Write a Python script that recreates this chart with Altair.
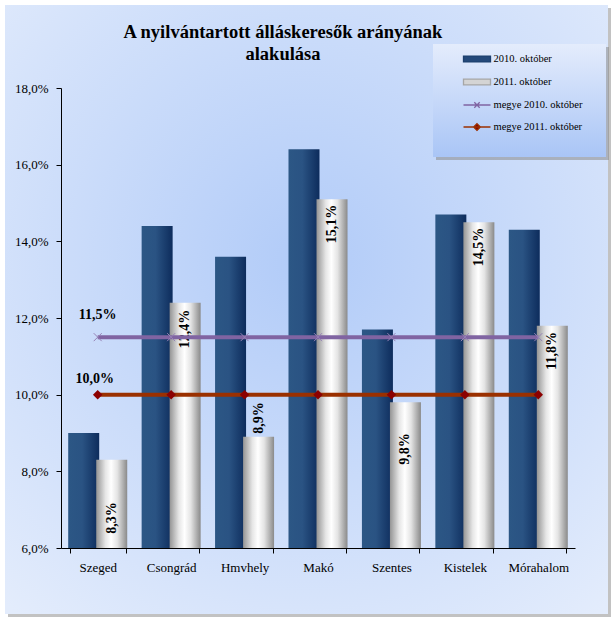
import altair as alt
import pandas as pd

# ---------------- data ----------------
categories = ["Szeged", "Csongrád", "Hmvhely", "Makó", "Szentes", "Kistelek", "Mórahalom"]
oct_2010 = [9.0, 14.4, 13.6, 16.4, 11.7, 14.7, 14.3]
oct_2011 = [8.3, 12.4, 8.9, 15.1, 9.8, 14.5, 11.8]
megye_2010 = [11.5, 11.5, 11.5, 11.5, 11.5, 11.5, 11.5]
megye_2011 = [10.0, 10.0, 10.0, 10.0, 10.0, 10.0, 10.0]
# where each (hand-placed) data label of the 2011 bars sits, in axis units
label_pos_2011 = [6.78, 11.71, 9.39, 14.45, 8.58, 13.85, 11.14]
series_names = ["2010. október", "2011. október", "megye 2010. október", "megye 2011. október"]
y_ticks = [6, 8, 10, 12, 14, 16, 18]
title_lines = ["A nyilvántartott álláskeresők arányának", "alakulása"]

def fmt(v):
    return f"{v:.1f}".replace(".", ",") + "%"

bars_df = pd.DataFrame(
    [{"category": c, "series": series_names[0], "value": v, "lab_y": None, "label": fmt(v)}
     for c, v in zip(categories, oct_2010)]
    + [{"category": c, "series": series_names[1], "value": v, "lab_y": p, "label": fmt(v)}
       for c, v, p in zip(categories, oct_2011, label_pos_2011)]
)
lines_df = pd.DataFrame(
    [{"category": c, "series": series_names[2], "value": v, "label": fmt(v)}
     for c, v in zip(categories, megye_2010)]
    + [{"category": c, "series": series_names[3], "value": v, "label": fmt(v)}
       for c, v in zip(categories, megye_2011)]
)
legend_df = pd.DataFrame({"series": series_names})
deco_df = pd.DataFrame({"k": [0]})

SERIF = "Liberation Serif"
OX, OY = 61, 88  # plot origin inside the 616x626 canvas

# ---------------- encodings ----------------
x_scale = alt.Scale(domain=categories, paddingInner=0.237, paddingOuter=0.1185)
x_axis = alt.Axis(title=None, labelAngle=0, tickBand="extent", labelFont=SERIF,
                  labelFontSize=13, labelColor="black", labelPadding=8, tickSize=5,
                  domainColor="black", tickColor="black", grid=False, zindex=1)
def X():
    return alt.X("category:N", sort=categories, scale=x_scale, axis=x_axis)

y_scale = alt.Scale(domain=[6, 18], zero=False, nice=False)
y_axis = alt.Axis(title=None, values=y_ticks, grid=False, labelFont=SERIF, labelFontSize=13,
                  labelColor="black", labelPadding=8, tickSize=5, domainColor="black",
                  tickColor="black", zindex=1,
                  labelExpr="replace(format(datum.value, '.1f'), '.', ',') + '%'")
def Y(field="value:Q"):
    return alt.Y(field, scale=y_scale, axis=y_axis)

xoff = alt.XOffset("series:N", scale=alt.Scale(domain=series_names[:2], paddingInner=0, paddingOuter=0))

# ---------------- decoration (frame, title, legend box) ----------------
frame_fill = alt.RadialGradient(
    gradient="radial", x1=0.5, y1=0.42, r1=0.0, x2=0.5, y2=0.42, r2=0.75,
    stops=[alt.GradientStop(offset=0, color="#b1cbf8"),
           alt.GradientStop(offset=1, color="#e3ecfc")])
frame_shadow = alt.Chart(deco_df).mark_rect(fill="#9a9a9a", opacity=0.6).encode(
    x=alt.value(5 - OX + 3), x2=alt.value(608 - OX + 3),
    y=alt.value(5 - OY + 3), y2=alt.value(614 - OY + 3))
frame = alt.Chart(deco_df).mark_rect(fill=frame_fill).encode(
    x=alt.value(5 - OX), x2=alt.value(608 - OX),
    y=alt.value(5 - OY), y2=alt.value(614 - OY))

title1 = alt.Chart(deco_df).mark_text(
    text=title_lines[0], font=SERIF, fontSize=18.5, fontWeight="bold", color="black",
    align="center", baseline="middle").encode(x=alt.value(283 - OX), y=alt.value(32 - OY))
title2 = alt.Chart(deco_df).mark_text(
    text=title_lines[1], font=SERIF, fontSize=18.5, fontWeight="bold", color="black",
    align="center", baseline="middle").encode(x=alt.value(283 - OX), y=alt.value(54 - OY))

legend_fill = alt.LinearGradient(
    gradient="linear", x1=0, y1=0, x2=0, y2=1,
    stops=[alt.GradientStop(offset=0, color="#e4ecfc"),
           alt.GradientStop(offset=1, color="#a9c5f6")])
legend_shadow = alt.Chart(deco_df).mark_rect(fill="#8a8a8a", opacity=0.55).encode(
    x=alt.value(433 - OX + 3), x2=alt.value(606 - OX + 3),
    y=alt.value(44 - OY + 3), y2=alt.value(157 - OY + 3))
legend_box = alt.Chart(deco_df).mark_rect(fill=legend_fill).encode(
    x=alt.value(433 - OX), x2=alt.value(606 - OX),
    y=alt.value(44 - OY), y2=alt.value(157 - OY))

# ---------------- bars ----------------
blue_grad = alt.LinearGradient(
    gradient="linear", x1=0, y1=0, x2=1, y2=0,
    stops=[alt.GradientStop(offset=0, color="#2c5785"),
           alt.GradientStop(offset=0.45, color="#2a5383"),
           alt.GradientStop(offset=1, color="#0d2c5c")])
silver_grad = alt.LinearGradient(
    gradient="linear", x1=0, y1=0, x2=1, y2=0,
    stops=[alt.GradientStop(offset=0, color="#949494"),
           alt.GradientStop(offset=0.3, color="#e6e6e6"),
           alt.GradientStop(offset=0.48, color="#ffffff"),
           alt.GradientStop(offset=0.68, color="#e4e4e4"),
           alt.GradientStop(offset=1, color="#8a8a8a")])

base_bars = alt.Chart(bars_df)
bars10 = base_bars.transform_filter(alt.datum.series == series_names[0]).mark_bar(
    fill=blue_grad, width=31).encode(x=X(), xOffset=xoff, y=Y(), y2=alt.datum(6))
bars11 = base_bars.transform_filter(alt.datum.series == series_names[1]).mark_bar(
    fill=silver_grad, width=31).encode(x=X(), xOffset=xoff, y=Y(), y2=alt.datum(6))
bar_labels = base_bars.transform_filter(alt.datum.series == series_names[1]).mark_text(
    angle=270, font=SERIF, fontSize=14, fontWeight="bold", color="black",
    align="center", baseline="middle").encode(
    x=X(), xOffset=xoff, y=Y("lab_y:Q"), text="label:N")

# ---------------- county lines ----------------
base_lines = alt.Chart(lines_df)
l10 = base_lines.transform_filter(alt.datum.series == series_names[2])
l11 = base_lines.transform_filter(alt.datum.series == series_names[3])
line10 = l10.mark_line(color="#8064a2", strokeWidth=4).encode(x=X(), y=Y())
pts10 = l10.mark_point(shape="M-1,-1L1,1M-1,1L1,-1", filled=False, color="#9682b6",
                       size=64, strokeWidth=1, opacity=1).encode(x=X(), y=Y())
line11 = l11.mark_line(color="#9a3000", strokeWidth=4).encode(x=X(), y=Y())
pts11 = l11.mark_point(shape="diamond", filled=True, color="#8b0000", size=90,
                       opacity=1).encode(x=X(), y=Y())
lab10 = l10.transform_filter(alt.datum.category == categories[0]).mark_text(
    font=SERIF, fontSize=14, fontWeight="bold", color="black", dy=-22, dx=0,
    baseline="middle").encode(x=X(), y=Y(), text="label:N")
lab11 = l11.transform_filter(alt.datum.category == categories[0]).mark_text(
    font=SERIF, fontSize=14, fontWeight="bold", color="black", dy=-16, dx=-3,
    baseline="middle").encode(x=X(), y=Y(), text="label:N")

# ---------------- legend (driven by the scales only) ----------------
legend_shapes = [
    "M-1,-0.22H1V0.22H-1Z",
    "M-1,-0.22H1V0.22H-1Z",
    "M-1,0H1M-0.2,-0.2L0.2,0.2M-0.2,0.2L0.2,-0.2",
    "M-1,0H1M0,-0.25L0.25,0L0,0.25L-0.25,0Z",
]
leg = alt.Legend(title=None, orient="none", legendX=476 - 13.5 - OX, legendY=58 - 13.5 - OY,
                 labelFont=SERIF, labelFontSize=10.5, labelColor="black", symbolSize=729,
                 symbolStrokeWidth=1.3, rowPadding=2, labelOffset=2, padding=0)
legend_layer = alt.Chart(legend_df).transform_filter("false").mark_point(
    filled=True, opacity=1).encode(
    fill=alt.Fill("series:N", scale=alt.Scale(domain=series_names,
                  range=["#24497a", "#d4d4d4", "#8064a2", "#8b0000"]), legend=leg),
    stroke=alt.Stroke("series:N", scale=alt.Scale(domain=series_names,
                      range=["#1d406f", "#a6a6a6", "#8064a2", "#9a3000"]), legend=leg),
    shape=alt.Shape("series:N", scale=alt.Scale(domain=series_names, range=legend_shapes),
                    legend=leg),
)

chart = alt.layer(
    frame_shadow, frame, title1, title2, legend_shadow, legend_box,
    bars10, bars11, bar_labels,
    line10, pts10, line11, pts11, lab10, lab11,
    legend_layer,
).properties(
    width=514, height=460,
    autosize=alt.AutoSizeParams(type="none"),
    padding={"left": OX, "top": OY, "right": 616 - OX - 514, "bottom": 626 - OY - 460},
    background="white",
).configure_view(stroke=None).configure_axis(
    labelFont=SERIF).configure_legend(labelFont=SERIF).configure_text(font=SERIF)

chart.save("out.html", embed_options={"renderer": "svg", "actions": False})
